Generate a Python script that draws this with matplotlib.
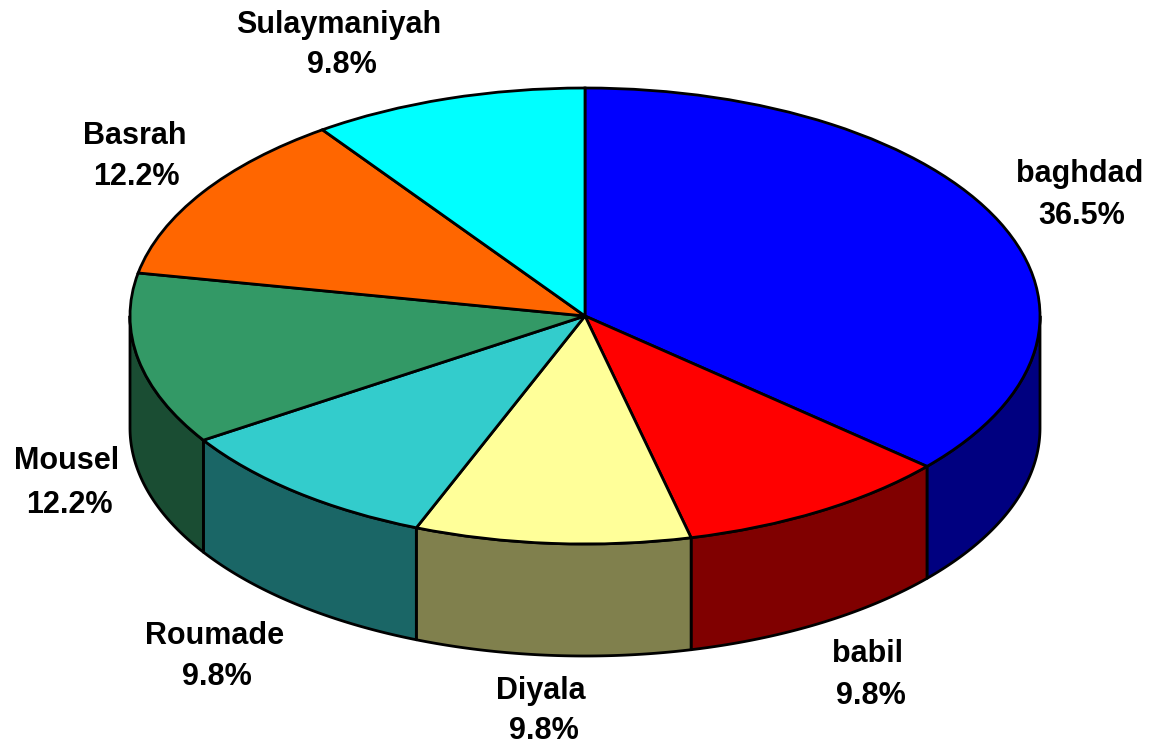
import numpy as np
import matplotlib
matplotlib.use('Agg')
import matplotlib.pyplot as plt

# pie data, clockwise from 12 o'clock
regions = ['baghdad', 'babil', 'Diyala', 'Roumade', 'Mousel', 'Basrah', 'Sulaymaniyah']
shares = [36.5, 9.8, 9.8, 9.8, 12.2, 12.2, 9.8]
top_colors = ['#0000FF', '#FF0000', '#FFFF99', '#33CCCC', '#339966', '#FF6600', '#00FFFF']
side_colors = ['#000080', '#800000', '#80804D', '#1A6666', '#1A4D33', '#803300', '#008080']

# label centres in pixels: name then percent
name_pos = [(1080, 174), (868, 654), (541, 691), (215, 636), (67, 461), (135, 136), (339, 25)]
pct_pos = [(1082, 216), (871, 696), (544, 731), (217, 677), (69, 505), (136, 177), (342, 65)]

W, H = 1150, 745
cx, cy = 585, 316   # centre of the top face
rx, ry = 455, 228   # radii of the top face
depth = 112 / ry    # thickness of the pie in y units

plt.rcParams['font.family'] = ['Liberation Sans', 'DejaVu Sans']

fig = plt.figure(figsize=(W / 100, H / 100), dpi=100)
ax = fig.add_axes([0, 0, 1, 1])

ax.pie(shares, colors=top_colors, startangle=90, counterclock=False, radius=1,
       wedgeprops={'edgecolor': 'black', 'linewidth': 2}, frame=False)

# side walls, only the front half of the rim can be seen
angles = 90 - np.cumsum([0] + shares) / sum(shares) * 360
for i in range(len(shares)):
    start = max(angles[i + 1], -180)
    end = min(angles[i], 0)
    if start >= end:
        continue
    t = np.radians(np.linspace(start, end, 80))
    xs = np.concatenate([np.cos(t), np.cos(t)[::-1]])
    ys = np.concatenate([np.sin(t), np.sin(t)[::-1] - depth])
    ax.fill(xs, ys, facecolor=side_colors[i], edgecolor='black', linewidth=2,
            joinstyle='round', zorder=0.5)

ax.set_aspect('auto')
ax.set_xlim(-cx / rx, (W - cx) / rx)
ax.set_ylim(-(H - cy) / ry, cy / ry)
ax.axis('off')

for i in range(len(regions)):
    fig.text(name_pos[i][0] / W, 1 - name_pos[i][1] / H, regions[i], ha='center', va='center',
             fontsize=22, fontweight='bold', color='black')
    fig.text(pct_pos[i][0] / W, 1 - pct_pos[i][1] / H, f'{shares[i]}%', ha='center', va='center',
             fontsize=22, fontweight='bold', color='black')

plt.savefig('out.png', dpi=100)
